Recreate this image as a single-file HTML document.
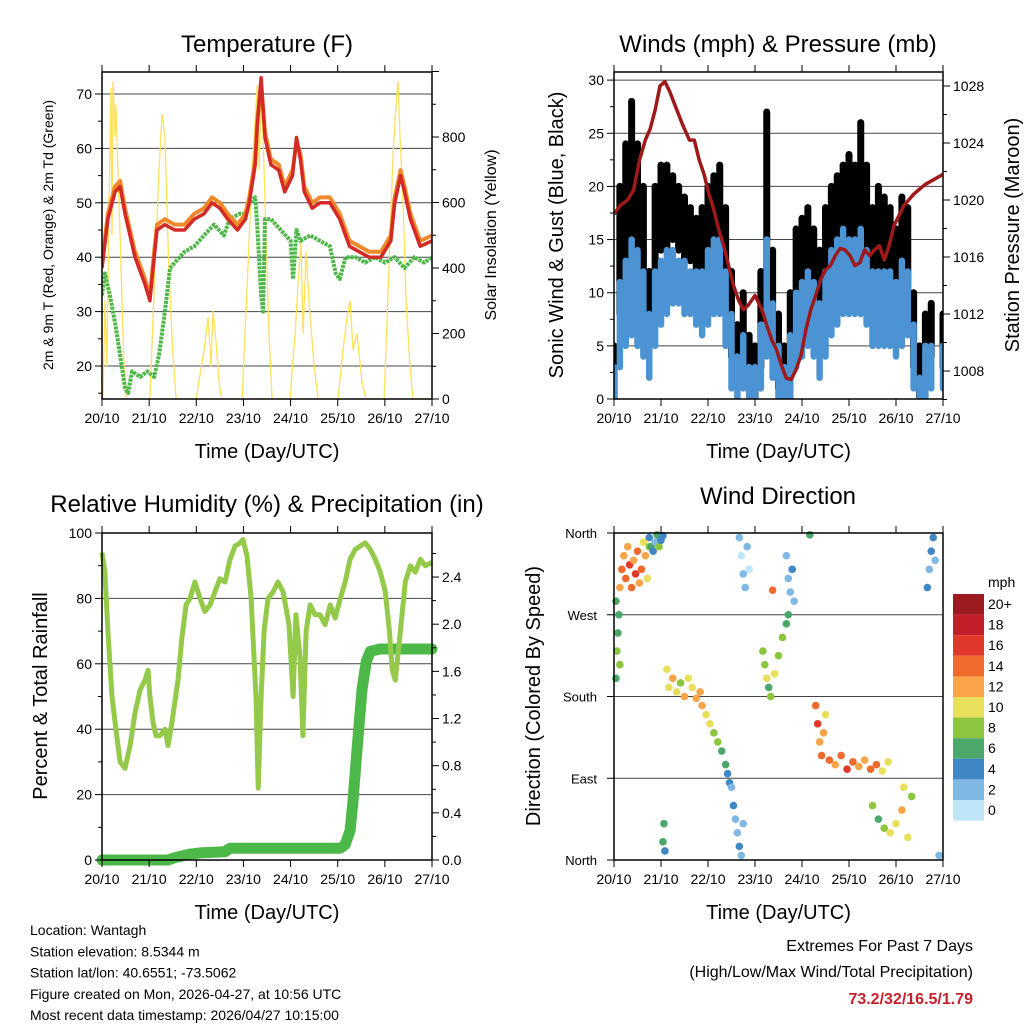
<!DOCTYPE html>
<html><head><meta charset="utf-8">
<style>
html,body{margin:0;padding:0;background:#fff;}
svg{display:block;font-family:"Liberation Sans",Arial,sans-serif;}
</style></head>
<body>
<svg id="chart" width="1024" height="1024" viewBox="0 0 1024 1024" xmlns="http://www.w3.org/2000/svg"></svg>
<script>
// ---------- DATA ----------
const dayLabels = ["20/10","21/10","22/10","23/10","24/10","25/10","26/10","27/10"];
// Temperature panel
const tempHours = [0,3,6.6,9.2,11.7,16.8,21.9,24.4,26,28,32,37,42,47,52,56,60,64,69,73,75,78,79,81,83,86,90,93,97,99,101,103,107,111,116,121,126,131,136,142,147,149,152,154,157,162,168];
const tempRed   = [38,47,52,53,48,40,35,32,38,45,46,45,45,47,48,50,49,47,45,47,50,57,64,73,62,57,56,52,55,62,58,52,49,50,50,47,42,41,40,40,43,50,55,52,47,42,43];
const tempOrange= [39,48,53,54,49,41,36,33,39,46,47,46,46,48,49,51,50,48,46,48,51,58,65,72,63,58,57,53,56,61,59,53,50,51,51,48,43,42,41,41,44,51,56,53,48,43,44];
const dewHours  = [0,1.5,4,6.6,9.2,11.7,13.2,15.3,19.4,23,26.5,29,32,34.6,37,42,47,52,57,62,65,70,73,75,78,79,81,82,83,86,91,96,97.3,99,101,106,111,116,119,121,124,129,134,139,144,149,154,159,164,168];
const dewVals   = [33,37,33,28,22,16,15,19,18,19,18,22,30,38,39,41,42,44,46,44,47,48,48,50,51,46,33,30,47,47,45,43,36,45,43,44,43,42,37,36,40,40,39,40,39,40,38,40,39,40];
const solarHours= [0.5,1.5,2.5,3.6,4.6,5.1,5.6,6.6,7.1,8.1,9.2,10.2,11.2,12.2,24.4,27,29,30.6,32,34,36,37.7,47.9,52,54,55.5,56.5,58,59.6,61,71.3,74.3,76.4,78,79,80,81,82,83.5,85,86.6,95.7,98.3,99.8,101.3,102.4,103.9,105.4,108,110,120.2,122.7,124.8,126.3,127.8,129.8,132.4,134.4,143.6,146.1,148.2,149.7,150.7,151.7,153.3,154.8,156.8,158.4,168];
const solarVals = [0,300,100,600,950,500,970,800,900,700,500,300,100,0,0,400,700,870,800,400,150,0,0,150,250,100,270,180,50,0,0,400,700,850,960,700,940,800,500,200,0,0,200,350,480,200,450,300,100,0,0,150,250,300,150,200,50,0,0,400,750,900,970,800,600,300,100,0,0];
// Wind panel (3-hourly)
const windHours = [0,3,6,9,12,15,18,21,24,27,30,33,36,39,42,45,48,51,54,57,60,63,66,69,72,75,78,81,84,87,90,93,96,99,102,105,108,111,114,117,120,123,126,129,132,135,138,141,144,147,150,153,156,159,162,168];
const gustLo = [0,8,12,14,12,12,5,10,14,14,15,14,13,13,12,10,12,14,14,10,4,1,3,1,0,3,10,5,1,0,2,6,8,10,8,6,8,12,13,14,14,13,14,12,10,10,10,10,8,10,10,3,0,2,4,3];
const gustHi = [5,20,24,28,24,20,12,20,22,22,21,20,19,18,17,18,20,21,22,18,12,7,10,6,5,12,27,14,8,5,10,16,17,18,16,14,18,20,21,22,23,22,26,22,18,20,19,18,16,19,18,10,5,8,9,8];
const windLo = [0,3,5,6,5,4,2,5,7,8,9,9,8,8,7,6,7,8,8,5,1,0,1,0,0,1,4,2,0,0,0,3,4,5,4,2,4,6,7,8,8,8,8,7,5,5,5,5,4,5,6,1,0,0,1,1];
const windHi = [3,11,13,15,14,12,8,12,13,14,14,13,13,12,12,12,14,15,15,12,8,4,6,3,3,7,15,9,5,3,6,10,11,12,11,9,12,14,15,16,15,15,16,14,12,12,12,12,11,13,12,7,2,5,5,5];
const presHours = [0,3,7,10,13,16,18.5,21,23.5,26,28.5,31,35,38.5,41,43.5,46,48.5,51,53.5,56,58.5,61,63.5,66,68.5,72,75.5,78,80.5,83,85.5,88,90.5,93,95.5,98,100.5,103,105.5,108,110.5,113,115.5,118,120.5,123,125.5,128,130.5,133,135.5,138,140.5,143,145.5,148,150.5,153,155.5,159,168];
const presVals  = [1019,1019.6,1020,1020.7,1022.8,1024.2,1025,1026.3,1028,1028.3,1027.6,1026.7,1025.3,1024.2,1024.2,1022.8,1021.8,1020.4,1019.3,1017.9,1016.8,1015.4,1014,1013,1012.3,1012.6,1013.3,1012.3,1011.2,1010.2,1009.5,1008.4,1007.5,1007.4,1008.1,1009.1,1010.9,1012.3,1013.3,1014.4,1015.1,1015.4,1016.1,1016.6,1016.5,1016.1,1015.4,1015.6,1016.5,1016.1,1016.5,1016.8,1015.8,1016.8,1018.2,1018.9,1019.6,1020,1020.4,1020.7,1021.1,1021.8];
// RH / precip panel
const rhHours = [0,1.5,3,5.1,7.1,9.2,11.7,14.3,16.8,19.4,21.9,23.4,24.4,26,27.5,29.5,32,33.6,35.6,38.7,40.7,42.8,44.8,47.3,49.9,52.4,55,57.5,60,62.6,65.2,67.7,70.3,71.8,73.8,75.9,77.4,78.4,79.5,81,82.5,84.5,87.1,89.6,92.2,95.2,97.3,98.7,100.8,102.3,103.9,106,108.5,111,113.6,116.2,118.7,121.3,123.8,126.3,128.9,131.5,134,136.6,139.1,141.7,144.2,146.3,147.8,149.3,151.9,154.4,157,159.5,162.1,164.6,168];
const rhVals  = [94,88,70,50,40,30,28,35,45,52,55,58,50,42,38,38,40,35,42,55,68,78,80,85,80,76,78,82,86,85,92,96,97,98,93,80,62,50,22,50,70,80,82,85,82,72,50,75,62,38,70,78,75,75,72,78,74,80,85,92,95,96,97,95,92,88,82,70,58,55,70,85,90,88,92,90,91];
const rainHours = [0,33.6,37.2,44.8,49.9,62.6,65.2,121.3,123.8,126.3,127.8,129.4,130.9,132.4,134.5,136.6,141.7,168];
const rainVals  = [0,0,0.02,0.05,0.06,0.07,0.1,0.1,0.13,0.25,0.5,0.85,1.15,1.45,1.68,1.77,1.79,1.79];
// Wind direction: hour, direction (deg), speed (mph)
const dirHours  = [3,4,5,6,7,8,9,10,11,12,13,14,15,16,17,18,1,1.5,2,2.5,3,1,18,19,20,21,22,23,24,25,25,25.5,26,27,28,30,32,34,36,38,40,42,44,45,47,49,51,53,55,57,58,59,60,61,62,63,64,65,66,64,65,66,67,68,69,81,76,77,78,79,80,82,84,86,88,89,88,89,90,91,92,100,103,104,105,106,107,108,110,113,116,119,122,125,128,131,134,137,140,132,135,138,141,144,147,150,152,148,160,161,162,163,164,166];
const dirDeg    = [300,320,335,310,345,325,300,330,315,340,305,320,350,335,310,345,200,230,250,270,215,285,355,345,340,350,358,345,352,357,20,40,10,210,190,200,185,195,180,200,190,178,185,170,160,150,140,130,120,105,95,85,80,60,45,30,15,5,40,355,335,315,300,345,320,297,230,215,200,190,180,205,225,245,260,270,335,310,295,320,285,358,170,150,130,115,140,160,110,105,115,100,108,103,110,100,105,98,108,60,45,35,30,40,55,25,70,80,300,320,340,355,330,5];
const dirSpeed  = [12,14,13,15,12,16,14,13,17,14,12,15,11,13,10,9,7,8,6,7,8,6,5,6,4,3,6,8,5,4,7,6,5,10,11,12,10,9,12,11,10,12,13,12,11,10,9,8,7,6,4,5,3,4,2,3,4,2,3,2,1,3,2,3,1,15,8,9,10,7,8,10,9,8,7,6,3,2,3,4,2,7,14,16,12,15,13,11,14,13,15,16,14,13,12,15,14,11,10,8,7,9,10,11,12,10,9,10,4,3,4,5,2,3];
const speedBins   = ["20+","18","16","14","12","10","8","6","4","2","0"];
const speedColors = ["#9b1b1e","#c21f2a","#e2382b","#f06a2d","#f8a54a","#e8e05c","#8cc63f","#4ba86a","#3f88c5","#80b8e4","#bfe5f8"];

// ---------- HELPERS ----------
const svg = document.getElementById('chart');
const NS = "http://www.w3.org/2000/svg";
function mk(tag, attrs, parent){
  const e = document.createElementNS(NS, tag);
  for (const k in attrs) e.setAttribute(k, attrs[k]);
  (parent||svg).appendChild(e);
  return e;
}
function txt(s, x, y, size, anchor, parent, extra){
  const t = mk('text', Object.assign({x:x, y:y, 'font-size':size, 'text-anchor':anchor||'middle', fill:'#000'}, extra||{}), parent);
  t.textContent = s;
  return t;
}
function pathFrom(xs, ys){ return xs.map((x,i)=>(i?'L':'M')+x.toFixed(1)+' '+ys[i].toFixed(1)).join(''); }
function speedColor(s){ let i = Math.min(10, Math.max(0, Math.floor(s/2))); return speedColors[10-i]; }

function panelFrame(p, name){
  const g = mk('g', {});
  
  
  return g;
}
function xAxis(g, p){
  for (let d=0; d<=7; d++){
    const x = p.x0 + d*(p.x1-p.x0)/7;
    mk('line',{x1:x,y1:p.y1,x2:x,y2:p.y1+7,stroke:'#000','stroke-width':1},g);
    mk('line',{x1:x,y1:p.y0,x2:x,y2:p.y0-7,stroke:'#000','stroke-width':1},g);
    const t = txt(dayLabels[d], x, p.y1+24, 14, 'middle', g);
    
    
  }
  const t = txt("Time (Day/UTC)", (p.x0+p.x1)/2, p.y1+59, 20, 'middle', g);
  
  
}
function frame(g,p){
  mk('rect',{x:p.x0,y:p.y0,width:p.x1-p.x0,height:p.y1-p.y0,fill:'none',stroke:'#000','stroke-width':1.5},g);
}
const H = 168;

// ---------- PANEL 1: TEMPERATURE ----------
(function(){
  const p = {x0:102,x1:432,y0:72,y1:399};
  const g = panelFrame(p,'temperature-panel');
  const X = h => p.x0 + h/H*(p.x1-p.x0);
  const Y = v => 366 - (v-20)*5.44;
  const YS = v => 399 - v*0.3275;
  const clip = mk('clipPath',{id:'c1'},g); mk('rect',{x:p.x0,y:p.y0,width:p.x1-p.x0,height:p.y1-p.y0},clip);
  [20,30,40,50,60,70].forEach(v=>{
    mk('line',{x1:p.x0,y1:Y(v),x2:p.x1,y2:Y(v),stroke:'#444','stroke-width':1},g);
  });
  const pg = mk('g',{'clip-path':'url(#c1)'},g);
  const sol = mk('path',{d:pathFrom(solarHours.map(X), solarVals.map(YS)),fill:'none',stroke:'#ffe15a','stroke-width':1.3},pg);
  
  
  const dew = mk('path',{d:pathFrom(dewHours.map(X), dewVals.map(Y)),fill:'none',stroke:'#4db848','stroke-width':4,'stroke-dasharray':'3 1','stroke-linejoin':'round'},pg);
  
  
  const or = mk('path',{d:pathFrom(tempHours.map(X), tempOrange.map(Y)),fill:'none',stroke:'#f0892a','stroke-width':4,'stroke-linejoin':'round'},pg);
  
  
  const rd = mk('path',{d:pathFrom(tempHours.map(X), tempRed.map(Y)),fill:'none',stroke:'#d42a25','stroke-width':3.5,'stroke-linejoin':'round'},pg);
  
  
  frame(g,p);
  for (let v=15; v<=74; v+=5){
    const major = v%10===0;
    mk('line',{x1:p.x0,y1:Y(v),x2:p.x0-(major?7:4),y2:Y(v),stroke:'#000'},g);
    if (major) txt(String(v), p.x0-10, Y(v)+5, 14, 'end', g);
  }
  for (let v=0; v<=1000; v+=100){
    const major = v%200===0;
    mk('line',{x1:p.x1,y1:YS(v),x2:p.x1+(major?7:4),y2:YS(v),stroke:'#000'},g);
    if (major && v<1000) txt(String(v), p.x1+10, YS(v)+5, 14, 'start', g);
  }
  xAxis(g,p);
  const tt = txt("Temperature (F)", 267, 52, 24, 'middle', g);
   
  const yl = txt("2m & 9m T (Red, Orange) & 2m Td (Green)", 0, 0, 14, 'middle', g, {transform:'translate(53,235) rotate(-90)'});
   
  const yr = txt("Solar Insolation (Yellow)", 0, 0, 16, 'middle', g, {transform:'translate(496,235) rotate(-90)'});
   
})();

// ---------- PANEL 2: WINDS ----------
(function(){
  const p = {x0:614,x1:943,y0:72,y1:399};
  const g = panelFrame(p,'winds-panel');
  const X = h => p.x0 + h/H*(p.x1-p.x0);
  const Y = v => 399 - v*10.63;
  const YP = v => 371 - (v-1008)*14.25;
  const clip = mk('clipPath',{id:'c2'},g); mk('rect',{x:p.x0,y:p.y0,width:p.x1-p.x0,height:p.y1-p.y0},clip);
  [5,10,15,20,25,30].forEach(v=> mk('line',{x1:p.x0,y1:Y(v),x2:p.x1,y2:Y(v),stroke:'#444'},g));
  const pg = mk('g',{'clip-path':'url(#c2)'},g);
  windHours.forEach((h,i)=>{
    const b = mk('line',{x1:X(h),y1:Y(gustLo[i]),x2:X(h),y2:Y(gustHi[i]),stroke:'#000','stroke-width':7,'stroke-linecap':'round'},pg);
    
    
  });
  windHours.forEach((h,i)=>{
    const b = mk('line',{x1:X(h),y1:Y(windLo[i]),x2:X(h),y2:Y(windHi[i]),stroke:'#4b93d2','stroke-width':6.5,'stroke-linecap':'round'},pg);
    
    
  });
  const pr = mk('path',{d:pathFrom(presHours.map(X), presVals.map(YP)),fill:'none',stroke:'#9e1a1a','stroke-width':3.5,'stroke-linejoin':'round'},pg);
  
  
  frame(g,p);
  for (let v=0; v<=30; v+=2.5){
    const major = v%5===0;
    mk('line',{x1:p.x0,y1:Y(v),x2:p.x0-(major?7:4),y2:Y(v),stroke:'#000'},g);
    if (major) txt(String(v), p.x0-10, Y(v)+5, 14, 'end', g);
  }
  for (let v=1006; v<=1029; v+=2){
    const major = v%4===0;
    mk('line',{x1:p.x1,y1:YP(v),x2:p.x1+(major?7:4),y2:YP(v),stroke:'#000'},g);
    if (major) txt(String(v), p.x1+10, YP(v)+5, 14, 'start', g);
  }
  xAxis(g,p);
  const tt = txt("Winds (mph) & Pressure (mb)", 778, 52, 24, 'middle', g);
   
  const yl = txt("Sonic Wind & Gust (Blue, Black)", 0, 0, 20, 'middle', g, {transform:'translate(563,235) rotate(-90)'});
   
  const yr = txt("Station Pressure (Maroon)", 0, 0, 20, 'middle', g, {transform:'translate(1019,235) rotate(-90)'});
   
})();

// ---------- PANEL 3: RH & PRECIP ----------
(function(){
  const p = {x0:102,x1:432,y0:533,y1:860};
  const g = panelFrame(p,'humidity-panel');
  const X = h => p.x0 + h/H*(p.x1-p.x0);
  const Y = v => 860 - v*3.27;
  const YR = v => 860 - v*117.9;
  const clip = mk('clipPath',{id:'c3'},g); mk('rect',{x:p.x0-6,y:p.y0,width:p.x1-p.x0+12,height:p.y1-p.y0+6},clip);
  [20,40,60,80].forEach(v=> mk('line',{x1:p.x0,y1:Y(v),x2:p.x1,y2:Y(v),stroke:'#444'},g));
  const pg = mk('g',{'clip-path':'url(#c3)'},g);
  const rn = mk('path',{d:pathFrom(rainHours.map(X), rainVals.map(YR)),fill:'none',stroke:'#4cb848','stroke-width':11,'stroke-linejoin':'round','stroke-linecap':'round'},pg);
  
  
  const rh = mk('path',{d:pathFrom(rhHours.map(X), rhVals.map(Y)),fill:'none',stroke:'#94c94a','stroke-width':5,'stroke-linejoin':'round'},pg);
  
  
  frame(g,p);
  for (let v=0; v<=100; v+=10){
    const major = v%20===0;
    mk('line',{x1:p.x0,y1:Y(v),x2:p.x0-(major?7:4),y2:Y(v),stroke:'#000'},g);
    if (major) txt(String(v), p.x0-10, Y(v)+5, 14, 'end', g);
  }
  for (let i=0; i<=13; i++){
    const v = i*0.2, major = i%2===0;
    mk('line',{x1:p.x1,y1:YR(v),x2:p.x1+(major?7:4),y2:YR(v),stroke:'#000'},g);
    if (major) txt(v.toFixed(1), p.x1+10, YR(v)+5, 14, 'start', g);
  }
  xAxis(g,p);
  const tt = txt("Relative Humidity (%) & Precipitation (in)", 267, 512, 24, 'middle', g);
   
  const yl = txt("Percent & Total Rainfall", 0, 0, 20, 'middle', g, {transform:'translate(47,696) rotate(-90)'});
   
})();

// ---------- PANEL 4: WIND DIRECTION ----------
(function(){
  const p = {x0:614,x1:943,y0:533,y1:860};
  const g = panelFrame(p,'wind-direction-panel');
  const X = h => p.x0 + h/H*(p.x1-p.x0);
  const Y = d => 860 - d*0.9083;
  [90,180,270].forEach(v=> mk('line',{x1:p.x0,y1:Y(v),x2:p.x1,y2:Y(v),stroke:'#444'},g));
  dirHours.forEach((h,i)=>{
    const c = mk('circle',{cx:X(h),cy:Y(dirDeg[i]),r:3.8,fill:speedColor(dirSpeed[i])},g);
    
    
  });
  frame(g,p);
  const names = ["North","East","South","West","North"];
  for (let i=0;i<=4;i++){
    const v=i*90;
    mk('line',{x1:p.x0,y1:Y(v),x2:p.x0-7,y2:Y(v),stroke:'#000'},g);
    txt(names[i], p.x0-17, Y(v)+5, 13, 'end', g);
  }
  xAxis(g,p);
  const tt = txt("Wind Direction", 778, 504, 24, 'middle', g);
   
  const yl = txt("Direction (Colored By Speed)", 0, 0, 20, 'middle', g, {transform:'translate(540,696) rotate(-90)'});
   
  const lg = mk('g',{},g);
  
  
  txt("mph", 988, 587, 14, 'start', lg);
  speedBins.forEach((lab,i)=>{
    const y = 594 + i*20.6;
    const r = mk('rect',{x:953,y:y,width:31,height:20.6,fill:speedColors[i]},lg);
    
    
    txt(lab, 988, y+15, 14, 'start', lg);
  });
})();

// ---------- FOOTER ----------
(function(){
  const g = mk('g',{});
  
  
  const lines = ["Location: Wantagh","Station elevation: 8.5344 m","Station lat/lon: 40.6551; -73.5062","Figure created on Mon, 2026-04-27, at 10:56 UTC","Most recent data timestamp: 2026/04/27 10:15:00"];
  lines.forEach((s,i)=> txt(s, 30, 935+i*21.3, 14, 'start', g));
  const e = mk('g',{});
  
  
  txt("Extremes For Past 7 Days", 973, 951, 16, 'end', e);
  txt("(High/Low/Max Wind/Total Precipitation)", 973, 977, 16, 'end', e);
  txt("73.2/32/16.5/1.79", 973, 1004, 16, 'end', e, {fill:'#c8202a','font-weight':'bold'});
})();
</script>
</body></html>
